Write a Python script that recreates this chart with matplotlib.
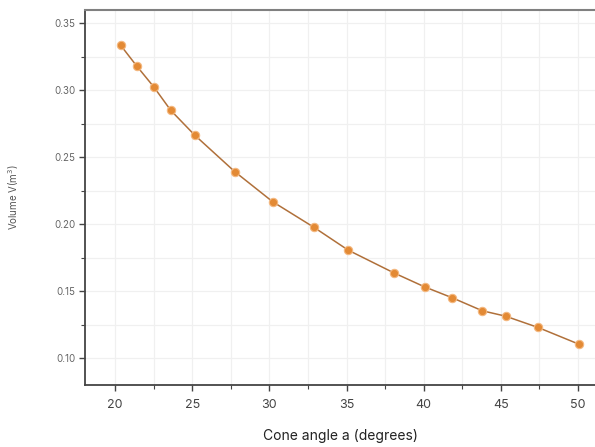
import matplotlib
matplotlib.use("Agg")
import matplotlib.pyplot as plt
from matplotlib.ticker import MultipleLocator

plt.rcParams['font.family'] = ['Inter', 'DejaVu Sans']

# Угол конуса (градусы) и объём V (м^3)
angle = [20.35, 21.4, 22.5, 23.6, 25.15, 27.75, 30.2, 32.9, 35.1,
         38.05, 40.05, 41.85, 43.8, 45.3, 47.4, 50.05]
volume = [0.3336, 0.318, 0.3025, 0.285, 0.2665, 0.2392, 0.2168, 0.1975, 0.1806,
          0.1637, 0.1532, 0.145, 0.1353, 0.1313, 0.1229, 0.1104]

fig = plt.figure(figsize=(5.95, 4.47), dpi=100)
ax = fig.add_axes([0.143, 0.139, 0.857, 0.839])

ax.plot(angle, volume, '-', color='#b0703a', lw=1.1, zorder=3)
ax.plot(angle, volume, 'o', color='#e38a35', ms=6, mec='#f4b880', mew=0.8, zorder=4)

ax.set_xlim(18.05, 51.1)
ax.set_ylim(0.08, 0.36)

ax.xaxis.set_major_locator(MultipleLocator(5))
ax.xaxis.set_minor_locator(MultipleLocator(2.5))
ax.yaxis.set_major_locator(MultipleLocator(0.05))
ax.yaxis.set_minor_locator(MultipleLocator(0.025))
ax.yaxis.set_major_formatter(plt.FormatStrFormatter('%.2f'))

ax.grid(True, which='both', color='#f0f0f0', lw=0.9, zorder=0)
ax.set_axisbelow(True)

for s in ['left', 'bottom']:
    ax.spines[s].set_color('#444444')
    ax.spines[s].set_linewidth(1.3)
ax.spines['top'].set_color('#808080')
ax.spines['top'].set_linewidth(1.5)
ax.spines['right'].set_visible(False)

ax.tick_params(axis='x', which='major', length=4, width=1, color='#444444',
               labelsize=9, labelcolor='#444444', pad=6)
ax.tick_params(axis='y', which='major', length=4, width=1, color='#444444',
               labelsize=7, labelcolor='#666666', pad=3)
ax.tick_params(which='minor', length=3, width=0.8, color='#444444')

ax.set_xlabel('Cone angle a (degrees)', fontsize=10, color='#222222', labelpad=13)
ax.set_ylabel('Volume V(m$^3$)', fontsize=7, color='#555555', labelpad=24)

fig.savefig('out.png', dpi=100)
